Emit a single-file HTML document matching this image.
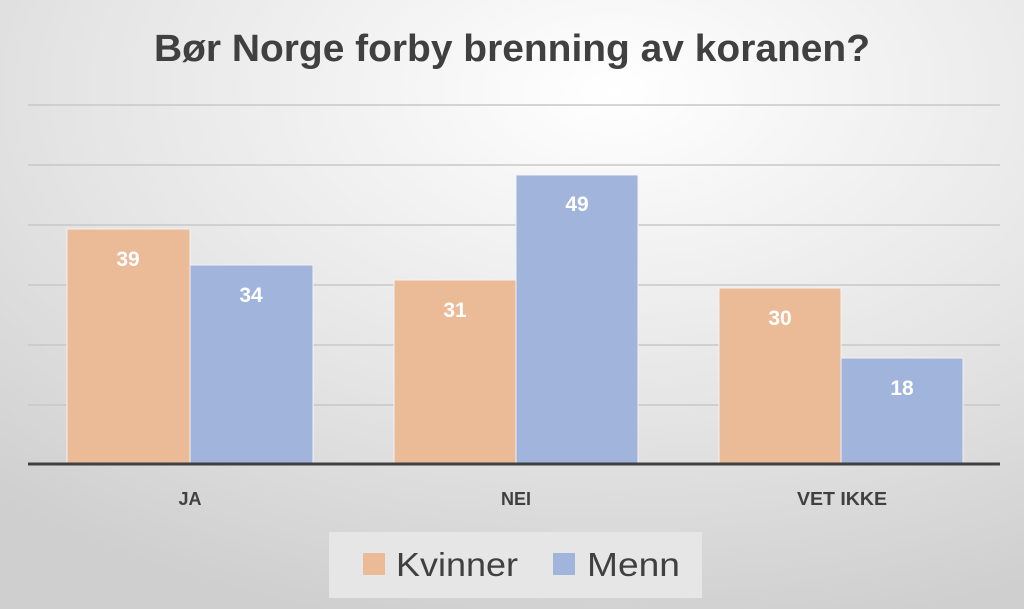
<!DOCTYPE html>
<html><head><style>
body{margin:0;}
</style></head><body>
<svg width="1024" height="609" xmlns="http://www.w3.org/2000/svg" style="display:block;font-family:'Liberation Sans',sans-serif">
<defs>
<radialGradient id="bg" cx="0.6" cy="0.15" r="0.9">
<stop offset="0" stop-color="#ffffff"/>
<stop offset="0.6" stop-color="#e4e4e4"/>
<stop offset="1" stop-color="#cfcfcf"/>
</radialGradient>
</defs>
<rect width="1024" height="609" fill="url(#bg)"/>
<text x="512" y="61" text-anchor="middle" font-size="38" font-weight="bold" fill="#404040" textLength="716" lengthAdjust="spacingAndGlyphs">Bør Norge forby brenning av koranen?</text>
<g stroke="#c8c8c8" stroke-width="1.5">
<line x1="28" y1="105" x2="1000" y2="105"/>
<line x1="28" y1="165" x2="1000" y2="165"/>
<line x1="28" y1="225" x2="1000" y2="225"/>
<line x1="28" y1="285" x2="1000" y2="285"/>
<line x1="28" y1="345" x2="1000" y2="345"/>
<line x1="28" y1="405" x2="1000" y2="405"/>
</g>
<g stroke="#f2f2f2" stroke-width="1">
<rect x="67" y="229" width="123" height="235" fill="#eabb96"/>
<rect x="190" y="265" width="123" height="199" fill="#a0b4dc"/>
<rect x="394" y="280" width="122" height="184" fill="#eabb96"/>
<rect x="516" y="175" width="122" height="289" fill="#a0b4dc"/>
<rect x="719" y="288" width="122" height="176" fill="#eabb96"/>
<rect x="841" y="358" width="122" height="106" fill="#a0b4dc"/>
</g>
<line x1="28" y1="464" x2="1000" y2="464" stroke="#404040" stroke-width="3"/>
<g fill="#fff" font-size="21" font-weight="bold" text-anchor="middle">
<text x="128" y="266">39</text>
<text x="251" y="302">34</text>
<text x="455" y="317">31</text>
<text x="577" y="211">49</text>
<text x="780" y="325">30</text>
<text x="902" y="395">18</text>
</g>
<g fill="#404040" font-size="18" font-weight="bold" text-anchor="middle">
<text x="190" y="505">JA</text>
<text x="516" y="505">NEI</text>
<text x="842" y="505" textLength="90" lengthAdjust="spacingAndGlyphs">VET IKKE</text>
</g>
<rect x="329" y="532" width="373" height="66" fill="#e6e6e6"/>
<rect x="363" y="553" width="22" height="22" fill="#eabb96"/>
<text x="396" y="576" font-size="33" fill="#404040" textLength="122" lengthAdjust="spacingAndGlyphs">Kvinner</text>
<rect x="553" y="553" width="22" height="22" fill="#a0b4dc"/>
<text x="587" y="576" font-size="33" fill="#404040" textLength="93" lengthAdjust="spacingAndGlyphs">Menn</text>
</svg>
</body></html>
